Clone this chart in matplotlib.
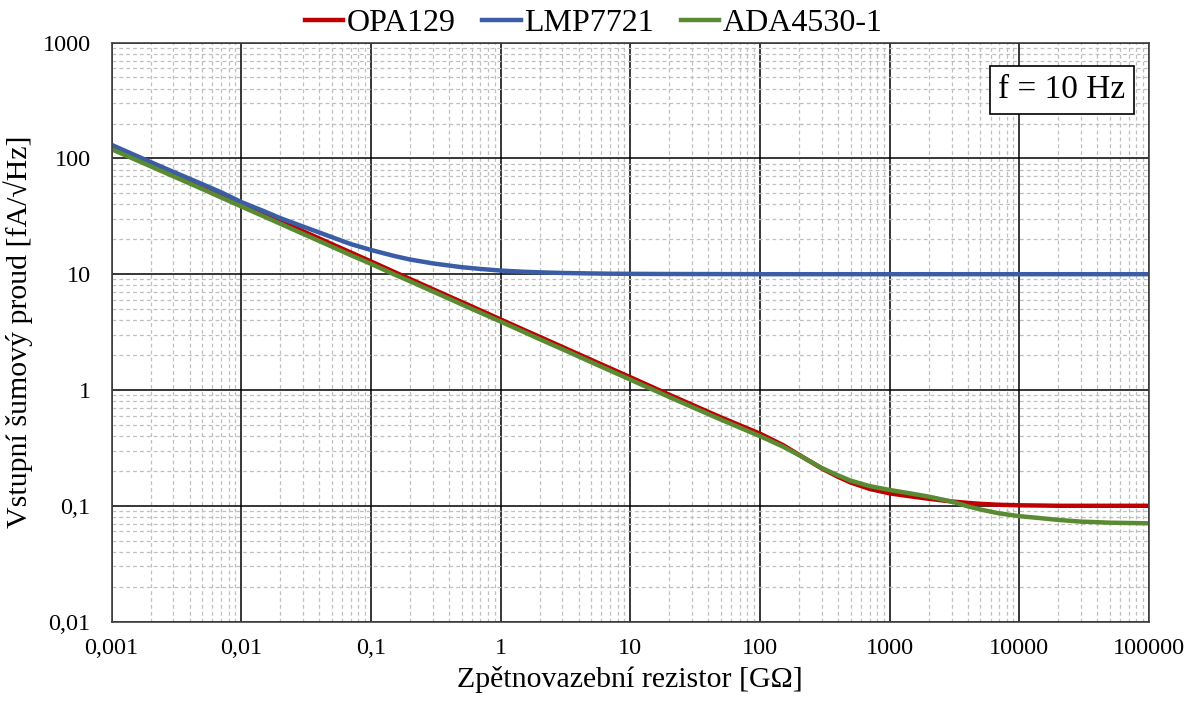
import numpy as np
import matplotlib
matplotlib.use("Agg")
import matplotlib.pyplot as plt
from matplotlib.ticker import FixedLocator, FixedFormatter, LogLocator, NullFormatter

# feedback resistor [GOhm]
r_gohm = [0.001, 0.002, 0.003, 0.005, 0.007, 0.01, 0.015, 0.02, 0.03, 0.05, 0.07,
          0.1, 0.15, 0.2, 0.3, 0.5, 0.7, 1, 1.5, 2, 3, 5, 7, 10, 20, 50,
          100, 150, 200, 300, 400, 500, 700, 1000, 1500, 2000, 3000, 4000, 5000,
          7000, 10000, 15000, 20000, 30000, 50000, 100000]

# input noise current [fA/sqrt(Hz)]
opa129 = [128, 91, 74, 57.5, 48.5, 40.6, 33.2, 28.8, 23.5, 18.2, 15.4,
          12.9, 10.5, 9.1, 7.43, 5.76, 4.87, 4.07, 3.32, 2.88, 2.35, 1.82, 1.54, 1.29, 0.91, 0.58,
          0.42, 0.335, 0.276, 0.21, 0.178, 0.159, 0.14, 0.128, 0.12, 0.115, 0.109, 0.106, 0.104,
          0.102, 0.101, 0.1005, 0.1, 0.1, 0.1, 0.1]
lmp7721 = [131, 93, 76.5, 60, 51, 42, 35, 30.5, 25.8, 20.9, 18.2,
           16.2, 14.4, 13.4, 12.4, 11.5, 11.1, 10.75, 10.5, 10.38, 10.25, 10.15, 10.1, 10.07, 10.04, 10.02,
           10.0, 10.0, 10.0, 10.0, 10.0, 10.0, 10.0, 10.0, 10.0, 10.0, 10.0, 10.0, 10.0,
           10.0, 10.0, 10.0, 10.0, 10.0, 10.0, 10.0]
ada4530 = [120, 85.5, 70, 54.5, 46, 38.5, 31.5, 27.3, 22.3, 17.3, 14.6,
           12.3, 10.0, 8.7, 7.1, 5.5, 4.65, 3.9, 3.18, 2.75, 2.25, 1.74, 1.47, 1.23, 0.87, 0.555,
           0.40, 0.325, 0.274, 0.212, 0.183, 0.165, 0.148, 0.137, 0.127, 0.12, 0.109, 0.099, 0.093,
           0.086, 0.0814, 0.078, 0.0755, 0.073, 0.0715, 0.0706]

x_ticks = [0.001, 0.01, 0.1, 1, 10, 100, 1000, 10000, 100000]
x_labels = ['0,001', '0,01', '0,1', '1', '10', '100', '1000', '10000', '100000']
y_ticks = [0.01, 0.1, 1, 10, 100, 1000]
y_labels = ['0,01', '0,1', '1', '10', '100', '1000']

plt.rcParams['font.family'] = ['Liberation Serif', 'DejaVu Serif']

fig = plt.figure(figsize=(11.87, 7.02), dpi=100)
ax = fig.add_axes([111.5/1187, 1-621.6/702, (1149-111.5)/1187, (621.6-42.6)/702])

ax.plot(r_gohm, opa129, color='#C00000', lw=3.2, label='OPA129', solid_joinstyle='round')
ax.plot(r_gohm, lmp7721, color='#3A5DA6', lw=3.2, label='LMP7721', solid_joinstyle='round')
ax.plot(r_gohm, ada4530, color='#5A8A32', lw=3.2, label='ADA4530-1', solid_joinstyle='round')

ax.set_xscale('log')
ax.set_yscale('log')
ax.set_xlim(0.001, 100000)
ax.set_ylim(0.01, 1000)

ax.xaxis.set_major_locator(FixedLocator(x_ticks))
ax.xaxis.set_major_formatter(FixedFormatter(x_labels))
ax.yaxis.set_major_locator(FixedLocator(y_ticks))
ax.yaxis.set_major_formatter(FixedFormatter(y_labels))
ax.xaxis.set_minor_locator(LogLocator(base=10, subs=np.arange(2, 10), numticks=20))
ax.yaxis.set_minor_locator(LogLocator(base=10, subs=np.arange(2, 10), numticks=20))
ax.xaxis.set_minor_formatter(NullFormatter())
ax.yaxis.set_minor_formatter(NullFormatter())

ax.grid(which='major', color='black', lw=1.1, zorder=1)
ax.grid(which='minor', color='#BFBFBF', lw=0.9, linestyle=(0, (3, 2.5)), zorder=0)
ax.set_axisbelow(True)
ax.tick_params(which='both', length=0)
ax.tick_params(axis='x', labelsize=17.5, pad=12)
ax.tick_params(axis='y', labelsize=17.5, pad=15)
for s in ax.spines.values():
    s.set_color('#404040')
    s.set_linewidth(1.2)

ax.set_xlabel('Zpětnovazební rezistor [GΩ]', fontsize=21.5, labelpad=5)
ax.set_ylabel('Vstupní šumový proud [fA/√Hz]', fontsize=21.5, labelpad=7)

ax.text(0.916, 0.918, 'f = 10 Hz', transform=ax.transAxes, fontsize=24,
        ha='center', va='center',
        bbox=dict(boxstyle='square,pad=0.25', facecolor='white', edgecolor='black', lw=1.2))

fig.legend(loc='center', bbox_to_anchor=(0.5, 0.967), ncol=3, frameon=False,
           fontsize=23, handlelength=1.2, handletextpad=0.1, columnspacing=0.85,
           borderaxespad=0)

plt.savefig('out.png', dpi=100)
